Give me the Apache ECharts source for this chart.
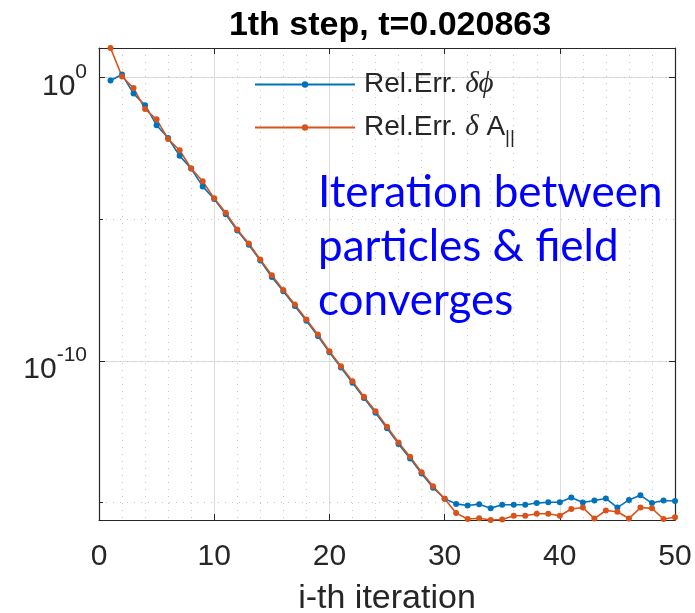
<!DOCTYPE html>
<html><head><meta charset="utf-8">
<script src="https://cdn.jsdelivr.net/npm/echarts@6/dist/echarts.min.js"></script>
<style>html,body{margin:0;padding:0;background:#fff}#c{width:695px;height:613px}</style>
</head><body><div id="c"></div>
<script>
// ---- data ----
const iterations = [1,2,3,4,5,6,7,8,9,10,11,12,13,14,15,16,17,18,19,20,21,22,23,24,25,26,27,28,29,30,31,32,33,34,35,36,37,38,39,40,41,42,43,44,45,46,47,48,49,50];
const relErrPhi = [0.80,1.3,0.275,0.107,0.021,7.4e-3,1.74e-3,6.2e-4,1.45e-4,5.2e-5,
  1.5e-5,4.0e-6,1.26e-6,3.5e-7,9.1e-8,2.9e-8,8.7e-9,2.6e-9,7.6e-10,2.0e-10,
  5.8e-11,1.7e-11,4.9e-12,1.48e-12,4.2e-13,1.17e-13,3.6e-14,1.05e-14,3.3e-15,1.35e-15,
  8.9e-16,7.8e-16,8.7e-16,6.3e-16,8.3e-16,8.3e-16,8.3e-16,9.5e-16,1.02e-15,1.02e-15,
  1.5e-15,1.0e-15,1.17e-15,1.38e-15,6.6e-16,1.23e-15,1.78e-15,9.5e-16,1.17e-15,1.12e-15];
const relErrApar = [11.2,1.1,0.43,0.078,0.034,6.8e-3,2.75e-3,6.2e-4,2.2e-4,5.5e-5,
  1.7e-5,4.4e-6,1.4e-6,3.8e-7,1.05e-7,3.2e-8,9.8e-9,2.9e-9,8.5e-10,2.2e-10,
  6.5e-11,1.9e-11,5.4e-12,1.66e-12,4.7e-13,1.3e-13,4.1e-14,1.17e-14,3.7e-15,1.35e-15,
  4.2e-16,2.6e-16,2.75e-16,2.4e-16,2.5e-16,3.4e-16,3.4e-16,4.0e-16,4.0e-16,3.4e-16,
  5.9e-16,6.6e-16,2.7e-16,5.2e-16,4.7e-16,2.7e-16,6.6e-16,6.2e-16,2.6e-16,3.0e-16];
const seriesNames = ['Rel.Err. δϕ', 'Rel.Err. δ A||'];
const xTickInterval = 10;
const xMin = 0, xMax = 50;
const titleText = '1th step, t=0.020863';
const xAxisTitle = 'i-th iteration';
const noteText = 'Iteration between\nparticles & field\nconverges';

// ---- chart ----
const allVals = relErrPhi.concat(relErrApar);
const yMin = Math.min.apply(null, allVals);
const yMax = Math.max.apply(null, allVals);
const axisColor = '#262626';
const gridSolid = {show: true, lineStyle: {color: '#dcdcdc', width: 1, type: 'solid'}};
const gridDot = {show: true, lineStyle: {color: '#c4c4c4', width: 1, type: [1, 6]}};
const supLabel = v => {
  const e = Math.round(Math.log10(v));
  return '{b|10}{s|' + e + '}';
};
const chart = echarts.init(document.getElementById('c'), null, {renderer: 'canvas'});
chart.setOption({
  animation: false,
  backgroundColor: '#fff',
  title: {
    text: titleText, left: 385, top: 4, textAlign: 'center',
    textStyle: {fontFamily: 'Liberation Sans', fontWeight: 'bold', fontSize: 34, color: '#000'}
  },
  grid: {left: 99, right: 20, top: 48, bottom: 93, containLabel: false, outerBoundsMode: 'none'},
  legend: {
    orient: 'vertical', left: 254, top: 70, itemWidth: 100, itemHeight: 8, itemGap: 14,
    padding: 0,
    data: seriesNames,
    formatter: n => n === seriesNames[0] ? 'Rel.Err. {i|δϕ}' : 'Rel.Err. {i|δ} A{sub|||}',
    textStyle: {
      fontFamily: 'Liberation Sans', fontSize: 28, color: axisColor, padding: [0, 0, 0, 4],
      rich: {
        i: {fontFamily: 'Liberation Serif', fontStyle: 'italic', fontSize: 29, color: axisColor},
        sub: {fontFamily: 'Liberation Sans', fontSize: 19, color: axisColor, verticalAlign: 'bottom', lineHeight: 40}
      }
    }
  },
  xAxis: [{
    type: 'value', min: xMin, max: xMax, interval: xTickInterval, position: 'bottom',
    axisLine: {show: true, onZero: false, lineStyle: {color: axisColor, width: 1.2}},
    axisTick: {show: true, inside: true, length: 6, lineStyle: {color: axisColor}},
    axisLabel: {fontFamily: 'Liberation Sans', fontSize: 30, color: axisColor, margin: 22},
    splitLine: gridSolid,
    minorTick: {show: false, splitNumber: 5},
    minorSplitLine: gridDot,
    name: xAxisTitle, nameLocation: 'middle', nameGap: 62,
    nameTextStyle: {fontFamily: 'Liberation Sans', fontSize: 34, color: axisColor}
  }, {
    type: 'value', min: xMin, max: xMax, interval: xTickInterval, position: 'top',
    axisLine: {show: true, onZero: false, lineStyle: {color: axisColor, width: 1.2}},
    axisTick: {show: true, inside: true, length: 6, lineStyle: {color: axisColor}},
    axisLabel: {show: false}, splitLine: {show: false}
  }],
  yAxis: [{
    type: 'log', logBase: 10, min: yMin, max: yMax, position: 'left',
    axisLine: {show: true, onZero: false, lineStyle: {color: axisColor, width: 1.2}},
    axisTick: {show: true, inside: true, length: 6, lineStyle: {color: axisColor}},
    axisLabel: {
      showMinLabel: false, showMaxLabel: false, margin: 12, padding: [8, 0, 0, 0],
      formatter: supLabel,
      rich: {
        b: {fontFamily: 'Liberation Sans', fontSize: 30, color: axisColor, lineHeight: 40, verticalAlign: 'bottom'},
        s: {fontFamily: 'Liberation Sans', fontSize: 21, color: axisColor, verticalAlign: 'top'}
      }
    },
    splitLine: gridSolid
  }, {
    type: 'log', logBase: 10, min: yMin, max: yMax, position: 'right',
    axisLine: {show: true, onZero: false, lineStyle: {color: axisColor, width: 1.2}},
    axisTick: {show: true, inside: true, length: 6, lineStyle: {color: axisColor}},
    axisLabel: {show: false}, splitLine: {show: false}
  }, {
    // helper axis in decades: dotted grid every 5 decades (MATLAB minor grid)
    type: 'value', min: Math.log10(yMin), max: Math.log10(yMax), splitNumber: 3, position: 'left',
    axisLine: {show: false},
    axisTick: {show: true, inside: true, length: 4, lineStyle: {color: axisColor}},
    axisLabel: {show: false},
    splitLine: gridDot
  }],
  graphic: [{
    type: 'text', left: 318, top: 166, z: 100,
    style: {text: noteText, fill: '#0000ff', font: '44px Lato', lineHeight: 54}
  }],
  series: [{
    name: seriesNames[0], type: 'line', xAxisIndex: 0, yAxisIndex: 0,
    data: iterations.map((x, k) => [x, relErrPhi[k]]),
    symbol: 'circle', symbolSize: 6, showSymbol: true,
    lineStyle: {color: '#0072BD', width: 1.6}, itemStyle: {color: '#0072BD'}
  }, {
    name: seriesNames[1], type: 'line', xAxisIndex: 0, yAxisIndex: 0,
    data: iterations.map((x, k) => [x, relErrApar[k]]),
    symbol: 'circle', symbolSize: 6, showSymbol: true,
    lineStyle: {color: '#D95319', width: 1.6}, itemStyle: {color: '#D95319'}
  }]
});
</script></body></html>
